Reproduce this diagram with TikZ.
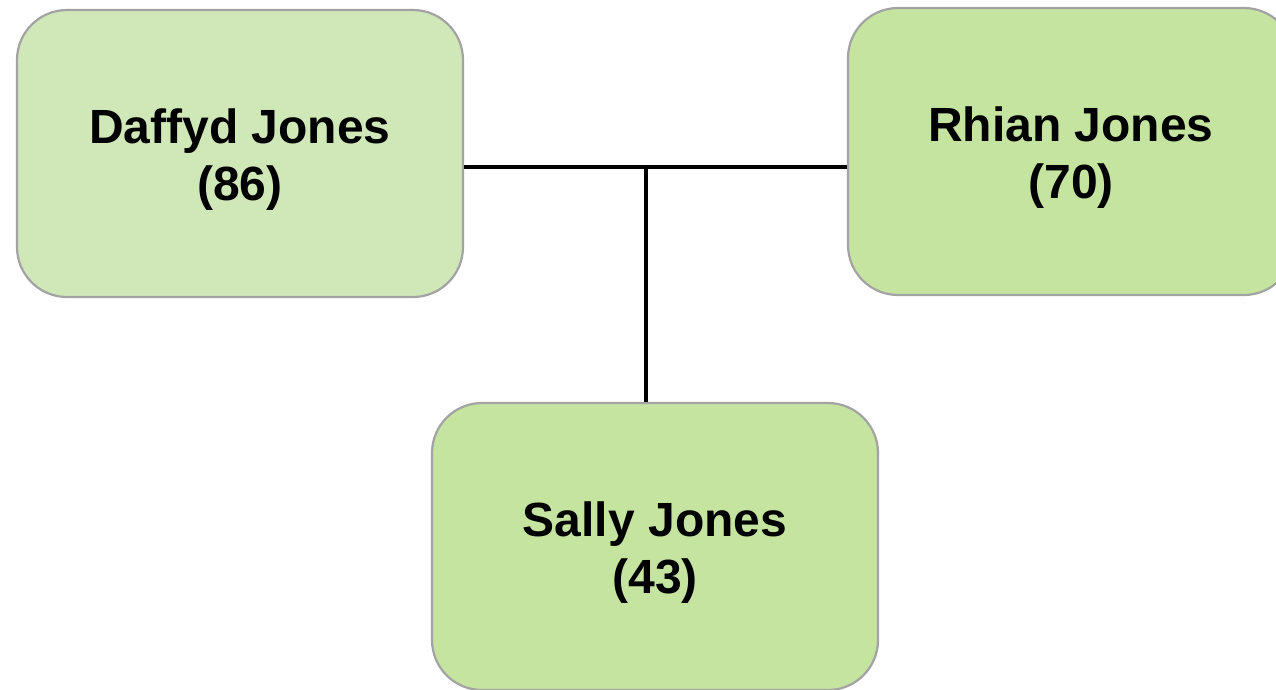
\documentclass[tikz,border=0pt]{standalone}
\usepackage{fontspec}
\setmainfont{Liberation Sans}
\usetikzlibrary{calc}
\definecolor{boxA}{HTML}{D0E8B8}
\definecolor{boxB}{HTML}{C5E4A0}
\definecolor{edge}{HTML}{A3A3A3}
\tikzset{
  person/.style={draw=edge, line width=2.2pt, rounded corners=50pt, minimum width=446pt, minimum height=287pt, inner sep=0pt},
  persontext/.style={align=center, font=\fontsize{48}{57}\selectfont\bfseries, inner sep=0pt, yshift=-6pt},
  link/.style={line width=3.7pt, black}
}
\begin{document}
\begin{tikzpicture}[x=1pt,y=-1pt]
\useasboundingbox (0,0) rectangle (1276,689);
\clip (0,0) rectangle (1276,689);
\node[person, fill=boxA, label={[persontext]center:Daffyd Jones\\(86)}] (d) at (240,153.5) {};
\node[person, fill=boxB, label={[persontext]center:Rhian Jones\\(70)}] (r) at (1071,151.5) {};
\node[person, fill=boxB, label={[persontext]center:Sally Jones\\(43)}] (s) at (655,546.5) {};
\coordinate (j) at (646,167);
\draw[link] (d.east |- j) -- (r.west |- j);
\draw[link] (j) -- (j |- s.north);
\end{tikzpicture}
\end{document}
